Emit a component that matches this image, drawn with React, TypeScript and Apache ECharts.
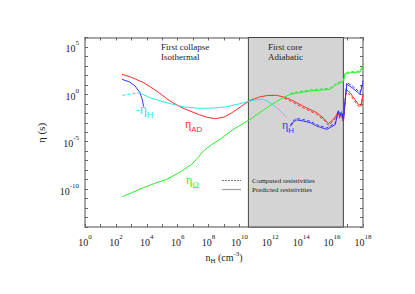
import React, { useEffect, useRef } from 'react';
import * as echarts from 'echarts';

// exponents (log10) of n_H and eta
const xTickExps = [0, 2, 4, 6, 8, 10, 12, 14, 16, 18];
const yTickExps = [-10, -5, 0, 5];
const coreRegion = [10.58, 16.73];

const redPredicted = [
  [2.4, 2.11], [3.0, 1.8], [3.8, 1.23], [4.6, 0.4], [5.5, -0.7], [6.2, -1.35], [6.8, -1.76],
  [7.4, -2.15], [7.9, -2.42], [8.45, -2.57], [9.0, -2.4], [9.5, -1.95], [9.85, -1.58],
  [10.3, -1.05], [10.7, -0.63], [11.3, -0.28], [11.8, -0.12], [12.4, -0.1], [12.9, -0.3],
  [13.3, -0.53], [14.1, -1.23], [15.0, -1.93], [15.5, -2.6], [15.76, -3.1], [16.1, -2.6],
  [16.4, -1.87], [16.5, -2.4], [16.62, -2.1], [16.73, -2.8], [16.9, 0.53], [17.16, 0.18],
  [17.7, -1.06], [17.86, -1.16], [18.0, 0.0]
];
const redComputed = [
  [12.9, -0.4], [13.3, -0.7], [14.1, -1.4], [15.0, -2.1], [15.5, -2.75], [15.76, -3.27],
  [16.1, -2.8], [16.4, -2.05], [16.5, -2.55], [16.62, -2.3], [16.73, -2.95], [16.9, 0.25],
  [17.16, -0.05], [17.7, -1.25], [17.86, -1.35], [18.0, -0.2]
];
const blueLow = [[2.4, 1.58], [2.9, 1.3], [3.24, 0.88], [3.56, 0.18], [3.7, -0.5], [3.8, -1.3]];
const bluePredicted = [
  [13.3, -3.4], [13.5, -2.9], [13.7, -2.7], [14.1, -2.8], [14.6, -3.0], [15.0, -3.35],
  [15.65, -3.7], [16.2, -3.2], [16.4, -1.8], [16.5, -2.3], [16.62, -1.95], [16.73, -2.8],
  [16.95, 1.06], [17.3, 0.7], [17.8, 0.0], [18.0, 1.2]
];
const blueComputed = [
  [13.3, -3.25], [13.5, -2.75], [13.7, -2.55], [14.1, -2.65], [14.6, -2.85], [15.0, -3.2],
  [15.65, -3.55], [16.2, -3.05], [16.4, -1.65], [16.5, -2.15], [16.62, -1.8], [16.73, -2.65],
  [16.95, 1.25], [17.3, 0.9], [17.8, 0.2], [18.0, 1.45]
];
const cyanComputed = [[2.42, -0.1], [3.0, 0.05], [3.4, 0.15], [3.7, 0.1]];
const cyanPredicted = [
  [3.7, 0.05], [4.2, -0.35], [5.0, -0.75], [5.7, -1.06], [6.5, -1.35], [7.45, -1.48],
  [8.3, -1.45], [9.18, -1.3], [10.0, -1.0], [10.69, -0.7], [11.2, -0.55], [11.55, -0.5],
  [11.9, -0.8], [12.4, -1.4], [12.8, -2.0], [13.05, -2.45]
];
const greenPredicted = [
  [2.42, -10.8], [3.0, -10.4], [3.78, -9.85], [4.5, -9.4], [5.29, -8.98], [6.26, -8.1],
  [6.91, -7.39], [7.3, -6.7], [7.66, -5.99], [8.2, -5.3], [8.74, -4.75], [9.6, -3.7],
  [10.69, -2.64], [11.77, -1.41], [12.63, -0.53], [13.28, 0.0], [13.92, 0.18], [14.57, 0.35],
  [15.3, 0.45], [15.87, 0.53], [16.3, 1.06], [16.73, 1.34], [16.85, 2.2], [17.3, 2.3],
  [17.81, 2.36], [18.0, 2.99]
];
const greenComputed = [
  [13.28, 0.12], [13.92, 0.3], [14.57, 0.47], [15.3, 0.57], [15.87, 0.66], [16.3, 1.2],
  [16.73, 1.48], [16.85, 2.3], [17.3, 2.4], [17.81, 2.46], [18.0, 3.1]
];

const RED = '#ff2a2a';
const BLUE = '#3434ff';
const CYAN = '#2ee6e6';
const GREEN = '#2aee2a';
const SERIF = "'Liberation Serif', 'Times New Roman', serif";
const SANS = "'Liberation Sans', Arial, sans-serif";

function line(name: string, data: number[][], color: string, dashed = false) {
  return {
    name,
    type: 'line',
    data,
    showSymbol: false,
    symbol: 'none',
    z: 3,
    lineStyle: { color, width: 1, type: dashed ? [3, 2] : 'solid' },
  };
}

function subLabel(x: number, y: number, main: string, sub: string, color: string, mainFont: string, subFont: string, subSize: number) {
  return {
    type: 'text', x, y, z: 20,
    style: {
      text: `{e|${main}}{s|${sub}}`,
      rich: {
        e: { fontFamily: mainFont, fontSize: 12, fill: color, verticalAlign: 'top', lineHeight: 15 },
        s: { fontFamily: subFont, fontSize: subSize, fill: color, verticalAlign: 'bottom', lineHeight: 9 },
      },
    },
  };
}

export default function App() {
  const ref = useRef<HTMLDivElement>(null);
  useEffect(() => {
    document.body.style.margin = '0';
    const chart = echarts.init(ref.current!, null, { renderer: 'svg' });
    const expLabel = (v: number) => `{b|10}{s|${v}}`;
    const labelRich = {
      b: { fontFamily: SERIF, fontSize: 10, color: '#222', verticalAlign: 'bottom', lineHeight: 14 },
      s: { fontFamily: SERIF, fontSize: 7, color: '#222', verticalAlign: 'top', lineHeight: 8 },
    };
    const axisLineStyle = { color: '#888', width: 1.5 };
    const tick = { show: true, inside: true, length: 3, lineStyle: { color: '#666', width: 1 } };
    chart.setOption({
      animation: false,
      grid: { left: 85, right: 52, top: 37.5, bottom: 67 },
      xAxis: [
        {
          type: 'value', min: 0, max: 18, interval: 1,
          axisLine: { onZero: false, lineStyle: axisLineStyle },
          axisTick: tick,
          splitLine: { show: false },
          axisLabel: {
            margin: 6,
            formatter: (v: number) => (xTickExps.includes(v) ? expLabel(v) : ''),
            rich: labelRich,
          },
        },
        {
          type: 'value', min: 0, max: 18, interval: 1, position: 'top',
          axisLine: { onZero: false, lineStyle: axisLineStyle },
          axisTick: tick, axisLabel: { show: false }, splitLine: { show: false },
        },
      ],
      yAxis: [
        {
          type: 'value', min: -14, max: 6, interval: 1,
          axisLine: { onZero: false, lineStyle: axisLineStyle },
          axisTick: tick,
          splitLine: { show: false },
          axisLabel: {
            margin: 6,
            formatter: (v: number) => (yTickExps.includes(v) ? expLabel(v) : ''),
            rich: labelRich,
          },
        },
        {
          type: 'value', min: -14, max: 6, interval: 1, position: 'right',
          axisLine: { onZero: false, lineStyle: axisLineStyle },
          axisTick: tick, axisLabel: { show: false }, splitLine: { show: false },
        },
      ],
      series: [
        {
          name: 'core', type: 'line', data: [], z: 1, silent: true,
          markArea: {
            silent: true,
            itemStyle: { color: '#d4d4d4', borderColor: '#444', borderWidth: 1 },
            data: [[{ xAxis: coreRegion[0], yAxis: -14 }, { xAxis: coreRegion[1], yAxis: 6 }]],
          },
        },
        line('η_AD predicted', redPredicted, RED),
        line('η_AD computed', redComputed, RED, true),
        line('η_H low', blueLow, BLUE),
        line('η_H predicted', bluePredicted, BLUE),
        line('η_H computed', blueComputed, BLUE, true),
        line('-η_H computed', cyanComputed, CYAN, true),
        line('-η_H predicted', cyanPredicted, CYAN),
        line('η_Ω predicted', greenPredicted, GREEN),
        line('η_Ω computed', greenComputed, GREEN, true),
      ],
      graphic: [
        { type: 'text', left: 161, top: 42, z: 20, style: { text: 'First collapse', font: `9px ${SERIF}`, fill: '#222' } },
        { type: 'text', left: 161, top: 52, z: 20, style: { text: 'Isothermal', font: `9px ${SERIF}`, fill: '#222' } },
        { type: 'text', left: 268, top: 42, z: 20, style: { text: 'First core', font: `9px ${SERIF}`, fill: '#222' } },
        { type: 'text', left: 268, top: 52, z: 20, style: { text: 'Adiabatic', font: `9px ${SERIF}`, fill: '#222' } },
        { type: 'line', shape: { x1: 222, y1: 180.5, x2: 241, y2: 180.5 }, style: { stroke: '#777777', lineWidth: 1, lineDash: [2, 1] }, z: 20 },
        { type: 'line', shape: { x1: 222, y1: 189.5, x2: 241, y2: 189.5 }, style: { stroke: '#a0a0a0', lineWidth: 1.2 }, z: 20 },
        { type: 'text', left: 252, top: 177, z: 20, style: { text: 'Computed resistivities', font: `7px ${SERIF}`, fill: '#222' } },
        { type: 'text', left: 252, top: 186, z: 20, style: { text: 'Predicted resistivities', font: `7px ${SERIF}`, fill: '#222' } },
        {
          type: 'text', x: 41, y: 133, rotation: Math.PI / 2, z: 20,
          style: { text: 'η (s)', font: `11px ${SERIF}`, fill: '#222', align: 'center', verticalAlign: 'middle' },
        },
        {
          type: 'text', x: 224, y: 257, z: 20,
          style: {
            text: '{a|n}{h|H}{a| (cm}{p|-3}{a|)}', align: 'center', verticalAlign: 'middle',
            rich: {
              a: { fontFamily: SERIF, fontSize: 10, fill: '#222', verticalAlign: 'middle', lineHeight: 14 },
              h: { fontFamily: SERIF, fontSize: 7, fill: '#222', verticalAlign: 'bottom', lineHeight: 8 },
              p: { fontFamily: SERIF, fontSize: 7, fill: '#222', verticalAlign: 'top', lineHeight: 8 },
            },
          },
        },
        subLabel(185, 118, 'η', 'AD', RED, SERIF, SANS, 8),
        subLabel(136, 104, '-η', 'H', CYAN, SANS, SANS, 9),
        subLabel(186, 174, 'η', 'Ω', GREEN, SERIF, SERIF, 9),
        subLabel(282, 119, 'η', 'H', BLUE, SERIF, SANS, 8),
      ],
    });
    return () => chart.dispose();
  }, []);
  return <div ref={ref} style={{ width: 415, height: 294 }} />;
}
